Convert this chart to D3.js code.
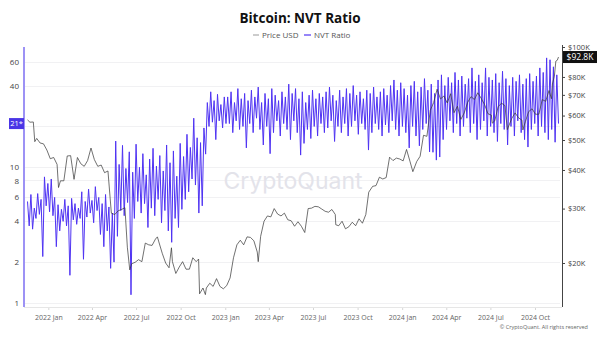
<!DOCTYPE html>
<html>
<head>
<meta charset="utf-8">
<script src="https://cdn.jsdelivr.net/npm/d3@7"></script>
<style>
  body { margin: 0; background: #fff; }
  svg { display: block; font-family: "Open Sans", "Noto Sans", sans-serif; }
</style>
</head>
<body>
<svg id="chart" width="600" height="338"></svg>
<script>
// ---- data ----
// NVT ratio: one weekly high (weekend) and one weekly low (mid-week), starting at nvtStart
const nvtStart = "2021-11-19";
const nvtWeeklyHigh = [
  5.6, 6.3, 5.0, 6.4, 5.8, 8.5, 7.6, 8.2, 6.0, 5.3,
  4.9, 5.8, 5.2, 5.9, 5.4, 5.0, 6.6, 5.6, 6.9, 5.7,
  7.2, 6.0, 5.4, 6.3, 5.1, 4.6, 15.6, 10.5, 14.5, 9.8,
  13.0, 9.2, 14.8, 10.0, 12.6, 8.8, 11.5, 13.8, 10.2, 12.2,
  9.4, 14.6, 10.8, 13.2, 8.6, 15.0, 12.0, 17.5, 14.0, 23.0,
  16.5, 15.2, 19.5, 30.0, 36.0, 31.0, 34.5, 29.0, 33.0,
  33, 36, 30, 38, 32, 35, 31, 37, 33, 39,
  30, 35, 32, 38, 34, 31, 36, 33, 41, 35,
  38, 32, 36, 30, 34, 37, 32, 35, 33, 36,
  39, 34, 31, 37, 33, 38, 35, 40, 34, 36,
  32, 37, 35, 39, 33, 36, 38, 34, 40, 44,
  37, 42,
  38, 34, 40, 43, 36, 39, 45, 37, 41, 35,
  44, 48, 40, 46, 42, 50, 44, 47, 41, 45,
  54, 43, 48, 42, 54, 46, 44, 49, 42, 51,
  45, 40, 46, 43, 48, 41, 45, 49, 43, 47,
  54, 50, 64, 62, 55, 48
];
const nvtWeeklyLow = [
  3.7, 3.5, 4.2, 4.5, 2.2, 5.2, 4.7, 4.4, 2.6, 3.4,
  4.0, 3.7, 1.6, 4.1, 3.8, 4.2, 2.1, 4.3, 4.6, 3.9,
  4.8, 3.2, 2.6, 3.4, 1.8, 2.0, 3.1, 4.8, 4.4, 5.5,
  1.15, 4.2, 5.6, 4.6, 5.4, 3.6, 5.0, 4.4, 5.8, 3.9,
  4.8, 3.4, 2.8, 4.2, 3.6, 4.9, 5.8, 6.6, 8.2, 7.4,
  4.6, 5.2, 12.5, 20.0, 21.5, 16.0, 22.0, 19.5, 21.0,
  21, 18, 22, 19, 20, 13.9, 21, 18, 23, 19,
  14.6, 20, 12.6, 18, 22, 17, 21, 19, 16, 22,
  18, 12.3, 15, 19, 16.3, 20, 17, 21, 18, 19.5,
  22, 15.5, 20, 18, 21, 17, 20, 22, 17.5, 21,
  19, 13.4, 18, 21, 19, 17, 20.5, 18, 22, 19,
  17, 20,
  18, 13.9, 20, 17, 14.4, 19, 21, 13, 12.9, 11.3,
  11.9, 16, 19, 22, 18, 21, 17, 20, 23, 18,
  21, 16, 19, 22, 17, 20, 18, 15.5, 21, 19,
  14.6, 20, 17, 22, 18, 16, 14.1, 19, 21, 17,
  20, 18, 16, 19, 15.3, 21
];

// BTC price in thousands of USD
const priceUsd = [
  ["2021-11-19", 58.1], ["2021-11-24", 57.1], ["2021-12-01", 57.2], ["2021-12-04", 49.4],
  ["2021-12-08", 50.6], ["2021-12-15", 48.9], ["2021-12-22", 48.6], ["2021-12-29", 46.4],
  ["2022-01-05", 43.5], ["2022-01-12", 43.9], ["2022-01-19", 41.7], ["2022-01-22", 35.1],
  ["2022-01-26", 36.9], ["2022-02-02", 36.9], ["2022-02-09", 44.4], ["2022-02-16", 44.5],
  ["2022-02-23", 37.3], ["2022-03-02", 43.9], ["2022-03-09", 41.9], ["2022-03-16", 41.1],
  ["2022-03-23", 42.9], ["2022-03-30", 47.1], ["2022-04-06", 43.2], ["2022-04-13", 41.1],
  ["2022-04-20", 41.5], ["2022-04-27", 39.2], ["2022-05-04", 39.7], ["2022-05-11", 29.0],
  ["2022-05-18", 28.7], ["2022-05-25", 29.5], ["2022-06-01", 29.8], ["2022-06-08", 30.2],
  ["2022-06-13", 22.5], ["2022-06-18", 19.0], ["2022-06-22", 19.9], ["2022-06-29", 20.1],
  ["2022-07-06", 20.5], ["2022-07-13", 20.2], ["2022-07-20", 23.2], ["2022-07-27", 22.9],
  ["2022-08-03", 22.8], ["2022-08-10", 23.9], ["2022-08-14", 24.3], ["2022-08-17", 23.4],
  ["2022-08-24", 21.5], ["2022-08-31", 20.0], ["2022-09-07", 19.3], ["2022-09-12", 22.4],
  ["2022-09-14", 20.2], ["2022-09-21", 18.5], ["2022-09-28", 19.4], ["2022-10-05", 20.2],
  ["2022-10-12", 19.1], ["2022-10-19", 19.1], ["2022-10-26", 20.8], ["2022-11-02", 20.2],
  ["2022-11-07", 20.6], ["2022-11-09", 15.9], ["2022-11-16", 16.6], ["2022-11-21", 15.8],
  ["2022-11-23", 16.6], ["2022-11-30", 17.2], ["2022-12-07", 16.8], ["2022-12-14", 17.8],
  ["2022-12-21", 16.8], ["2022-12-28", 16.5], ["2023-01-04", 16.9], ["2023-01-11", 17.9],
  ["2023-01-18", 20.8], ["2023-01-25", 22.9], ["2023-02-01", 23.7], ["2023-02-08", 22.9],
  ["2023-02-15", 24.3], ["2023-02-22", 24.2], ["2023-03-01", 23.6], ["2023-03-08", 21.7],
  ["2023-03-10", 20.2], ["2023-03-15", 24.4], ["2023-03-22", 27.3], ["2023-03-29", 28.4],
  ["2023-04-05", 28.2], ["2023-04-12", 30.0], ["2023-04-19", 28.8], ["2023-04-26", 28.4],
  ["2023-05-03", 29.0], ["2023-05-10", 27.6], ["2023-05-17", 27.4], ["2023-05-24", 26.3],
  ["2023-05-31", 27.2], ["2023-06-07", 26.3], ["2023-06-14", 25.1], ["2023-06-21", 30.0],
  ["2023-06-28", 30.1], ["2023-07-05", 30.5], ["2023-07-12", 30.4], ["2023-07-19", 29.9],
  ["2023-07-26", 29.4], ["2023-08-02", 29.2], ["2023-08-09", 29.8], ["2023-08-16", 28.7],
  ["2023-08-17", 26.6], ["2023-08-23", 26.4], ["2023-08-30", 27.3], ["2023-09-06", 25.8],
  ["2023-09-13", 26.2], ["2023-09-20", 27.1], ["2023-09-27", 26.4], ["2023-10-04", 27.8],
  ["2023-10-11", 26.9], ["2023-10-18", 28.7], ["2023-10-24", 33.9], ["2023-11-01", 35.4],
  ["2023-11-08", 35.6], ["2023-11-15", 37.9], ["2023-11-22", 37.4], ["2023-11-29", 37.8],
  ["2023-12-06", 44.0], ["2023-12-13", 42.9], ["2023-12-20", 43.7], ["2023-12-27", 43.4],
  ["2024-01-03", 42.8], ["2024-01-10", 46.6], ["2024-01-17", 42.7], ["2024-01-23", 39.5],
  ["2024-01-31", 42.6], ["2024-02-07", 44.3], ["2024-02-14", 51.8], ["2024-02-21", 51.4],
  ["2024-02-28", 62.4], ["2024-03-06", 66.1], ["2024-03-13", 73.0], ["2024-03-20", 67.9],
  ["2024-03-27", 69.4], ["2024-04-03", 65.9], ["2024-04-10", 70.6], ["2024-04-17", 61.3],
  ["2024-04-24", 64.3], ["2024-05-01", 58.3], ["2024-05-08", 61.2], ["2024-05-15", 66.2],
  ["2024-05-22", 69.1], ["2024-05-29", 67.6], ["2024-06-05", 71.1], ["2024-06-12", 68.2],
  ["2024-06-19", 65.1], ["2024-06-26", 60.8], ["2024-07-03", 60.2], ["2024-07-05", 56.7],
  ["2024-07-10", 57.7], ["2024-07-17", 64.1], ["2024-07-24", 65.8], ["2024-07-31", 64.6],
  ["2024-08-05", 54.0], ["2024-08-07", 55.1], ["2024-08-14", 58.7], ["2024-08-21", 61.2],
  ["2024-08-28", 59.0], ["2024-09-04", 58.0], ["2024-09-06", 53.9], ["2024-09-11", 57.3],
  ["2024-09-18", 61.8], ["2024-09-25", 63.1], ["2024-10-02", 60.6], ["2024-10-09", 60.6],
  ["2024-10-16", 67.6], ["2024-10-23", 66.7], ["2024-10-30", 72.3], ["2024-11-04", 68.0],
  ["2024-11-06", 75.9], ["2024-11-10", 80.5], ["2024-11-13", 90.0], ["2024-11-16", 90.6],
  ["2024-11-18T12:00", 92.8]
];

// grid levels on the NVT axis; labelled levels exclude the one under the latest-value badge
const nvtGrid = [1, 2, 4, 6, 8, 10, 20, 40, 60];
const nvtTicks = [1, 2, 4, 6, 8, 10, 40, 60];
const priceTicks = [20, 30, 40, 50, 60, 70, 80, 100];
const dateTicks = ["2022-01-01", "2022-04-01", "2022-07-01", "2022-10-01",
                   "2023-01-01", "2023-04-01", "2023-07-01", "2023-10-01",
                   "2024-01-01", "2024-04-01", "2024-07-01", "2024-10-01"];
const latestNvtLabel = "21*";
const latestNvt = 21;
const latestPrice = 92.8;

// ---- layout ----
const W = 600, H = 338;
const plot = { left: 24, right: 562, top: 47, bottom: 307 };
const purple = "#4f33f3";

const parse = d3.isoParse;
const day = 864e5;
const t0 = parse(nvtStart);

const nvtSeries = [];
nvtWeeklyHigh.forEach((v, i) => {
  nvtSeries.push({ date: new Date(+t0 + i * 7 * day), v });
  nvtSeries.push({ date: new Date(+t0 + (i * 7 + 3.5) * day), v: nvtWeeklyLow[i] });
});
const priceSeries = priceUsd.map(([d, v]) => ({ date: parse(d), v }));

const x = d3.scaleTime()
  .domain([t0, nvtSeries[nvtSeries.length - 1].date])
  .range([27.5, 558.5]);
const yNvt = d3.scaleLog().domain([1, 60]).range([303, 61.7]);
const yPrice = d3.scaleLog().domain([20, 100]).range([263, 47]);

const svg = d3.select("#chart");
svg.append("rect").attr("width", W).attr("height", H).attr("fill", "#fff");

// title + legend
svg.append("text").attr("x", 300).attr("y", 23).attr("text-anchor", "middle")
  .attr("font-size", 13.5).attr("font-weight", 700).attr("fill", "#111")
  .text("Bitcoin: NVT Ratio");

const legend = svg.append("g").attr("font-size", 8).attr("fill", "#555");
legend.append("line").attr("x1", 253).attr("x2", 259).attr("y1", 35).attr("y2", 35)
  .attr("stroke", "#999").attr("stroke-width", 1);
legend.append("text").attr("x", 262).attr("y", 38).text("Price USD");
legend.append("line").attr("x1", 304).attr("x2", 311).attr("y1", 35).attr("y2", 35)
  .attr("stroke", purple).attr("stroke-width", 1.2);
legend.append("text").attr("x", 314).attr("y", 38).text("NVT Ratio");

// gridlines
svg.append("g").selectAll("line").data(nvtGrid).join("line")
  .attr("x1", plot.left + 1).attr("x2", plot.right - 2)
  .attr("y1", d => Math.round(yNvt(d)) + 0.5).attr("y2", d => Math.round(yNvt(d)) + 0.5)
  .attr("stroke", "#f1f1f3").attr("stroke-width", 1);

// watermark
svg.append("text").attr("x", 293).attr("y", 189).attr("text-anchor", "middle")
  .attr("font-size", 23).attr("font-family", "Inter, 'Open Sans', sans-serif")
  .attr("fill", "#e3e3ea").text("CryptoQuant");

// x axis
const xAxis = svg.append("g").attr("transform", `translate(0,${plot.bottom})`)
  .call(d3.axisBottom(x).tickValues(dateTicks.map(parse)).tickSize(3).tickPadding(5)
    .tickFormat(d3.timeFormat("%Y %b")));
xAxis.select(".domain").remove();
xAxis.selectAll(".tick line").attr("stroke", "#d6d6d6");
xAxis.selectAll(".tick text").attr("font-size", 7).attr("fill", "#666")
  .attr("font-family", "'Open Sans', sans-serif");
svg.append("line").attr("x1", plot.left).attr("x2", plot.right)
  .attr("y1", plot.bottom + 0.5).attr("y2", plot.bottom + 0.5)
  .attr("stroke", "#e6e6e6");

// left axis (NVT)
const yl = svg.append("g").attr("transform", `translate(${plot.left},0)`)
  .call(d3.axisLeft(yNvt).tickValues(nvtTicks).tickSize(0).tickPadding(5)
    .tickFormat(d3.format("d")));
yl.select(".domain").remove();
yl.selectAll(".tick text").attr("font-size", 8).attr("fill", "#444")
  .attr("font-family", "'Open Sans', sans-serif");
svg.append("line").attr("x1", plot.left).attr("x2", plot.left)
  .attr("y1", plot.top).attr("y2", plot.bottom)
  .attr("stroke", "#7d6ef2").attr("stroke-width", 1.5);

// right axis (price)
const yr = svg.append("g").attr("transform", `translate(${plot.right},0)`)
  .call(d3.axisRight(yPrice).tickValues(priceTicks).tickSize(3).tickPadding(3)
    .tickFormat(d => `$${d}K`));
yr.select(".domain").remove();
yr.selectAll(".tick line").attr("stroke", "#444");
yr.selectAll(".tick text").attr("font-size", 7.5).attr("fill", "#444")
  .attr("font-family", "'Open Sans', sans-serif");
svg.append("line").attr("x1", plot.right + 0.5).attr("x2", plot.right + 0.5)
  .attr("y1", plot.top - 2).attr("y2", plot.bottom)
  .attr("stroke", "#444").attr("stroke-width", 1);

// series
svg.append("path").datum(nvtSeries)
  .attr("fill", "none").attr("stroke", purple).attr("stroke-width", 1)
  .attr("stroke-linejoin", "round")
  .attr("d", d3.line().x(d => x(d.date)).y(d => yNvt(d.v)));

svg.append("path").datum(priceSeries)
  .attr("fill", "none").attr("stroke", "#333").attr("stroke-width", 0.7)
  .attr("d", d3.line().x(d => x(d.date)).y(d => yPrice(d.v)));

// latest value badges
const nvtY = yNvt(latestNvt);
svg.append("rect").attr("x", 9).attr("y", nvtY - 5.5).attr("width", 15).attr("height", 11)
  .attr("fill", "#4a35e6");
svg.append("text").attr("x", 16.5).attr("y", nvtY + 2.8).attr("text-anchor", "middle")
  .attr("font-size", 7.5).attr("fill", "#fff").text(latestNvtLabel);

const pY = yPrice(latestPrice);
svg.append("rect").attr("x", 563).attr("y", pY - 6).attr("width", 34).attr("height", 12)
  .attr("fill", "#111");
svg.append("text").attr("x", 580).attr("y", pY + 3).attr("text-anchor", "middle")
  .attr("font-size", 8.5).attr("fill", "#fff").text(`$${latestPrice}K`);

// copyright
svg.append("text").attr("x", 588).attr("y", 329).attr("text-anchor", "end")
  .attr("font-size", 5.5).attr("fill", "#666")
  .text("© CryptoQuant. All rights reserved");
</script>
</body>
</html>
